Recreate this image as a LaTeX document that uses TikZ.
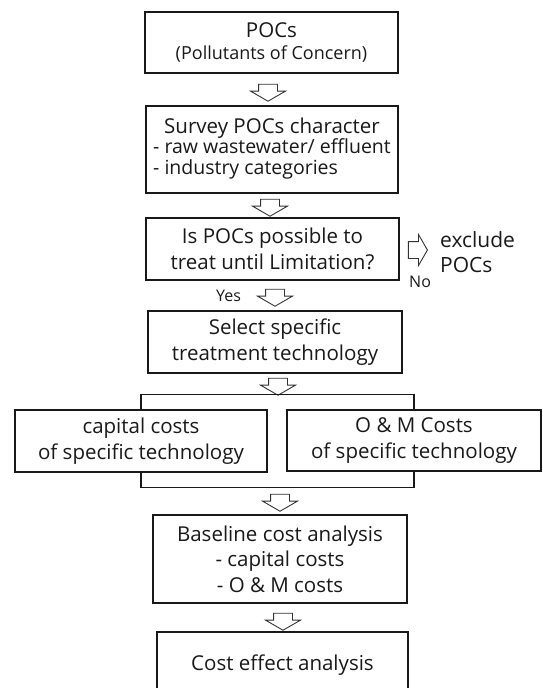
\documentclass[tikz,border=0pt]{standalone}
\usepackage{fontspec}
\setmainfont{Open Sans}
\usetikzlibrary{shapes.arrows}
\tikzset{
	stepbox/.style={draw=black!90, text=black!90, line width=1.4pt, align=center, inner sep=0pt, font=\fontsize{20.5}{25.5}\selectfont},
	downarrow/.style={single arrow, draw=black!80, line width=0.9pt, shape border rotate=270, minimum height=17pt, single arrow head extend=8pt, single arrow tip angle=120, inner xsep=9pt, inner ysep=0pt},
	sidearrow/.style={downarrow, shape border rotate=0, minimum height=19pt, single arrow head extend=7pt, inner xsep=0pt, inner ysep=8pt},
	sidetext/.style={text=black!90, inner sep=0pt, font=\fontsize{21}{25}\selectfont}
}
\begin{document}
\begin{tikzpicture}[x=1pt, y=-1pt]
			\useasboundingbox (0,0) rectangle (542,688);
			\clip (0,0) rectangle (542,688);
			\node[stepbox, minimum width=253pt, minimum height=61pt] (poc) at (271.5,42.5) {POCs\\[-4pt]{\fontsize{18}{21}\selectfont (Pollutants of Concern)}};
			\node[stepbox, minimum width=252pt, minimum height=87pt] (survey) at (272,149.5) {Survey POCs character\\[-1pt]{\fontsize{19.5}{21.5}\selectfont\begin{tabular}{@{}l@{}}- raw wastewater/ effluent\\- industry categories\end{tabular}}};
			\node[stepbox, minimum width=253pt, minimum height=62pt] (possible) at (272.5,249) {Is POCs possible to\\treat until Limitation?};
			\node[stepbox, minimum width=254pt, minimum height=62pt] (select) at (275,342) {Select specific\\treatment technology};
			\node[stepbox, minimum width=252pt, minimum height=62pt] (capital) at (141,441) {capital costs\\of specific technology};
			\node[stepbox, minimum width=254pt, minimum height=61pt] (om) at (414,440.5) {O \& M Costs\\of specific technology};
			\node[stepbox, minimum width=254pt, minimum height=88pt] (baseline) at (280,559) {Baseline cost analysis\\- capital costs\\- O \& M costs};
			\node[stepbox, minimum width=251pt, minimum height=76pt, text depth=15.5pt] (effect) at (282.5,670) {Cost effect analysis};
			\node[downarrow] (a1) at (268,90) {};
			\node[downarrow] (a2) at (270,205) {};
			\node[downarrow] (a3) at (275,295) {};
			\node[downarrow] (a4) at (278,384) {};
			\node[downarrow] (a5) at (280,500) {};
			\node[downarrow] (a6) at (283,619) {};
			\node[sidearrow] (no) at (415.5,250) {};
			\node[sidetext, anchor=west, align=left] (exclude) at (440,252) {exclude\\POCs};
			\node[sidetext, font=\fontsize{16}{18}\selectfont, anchor=base west] (nolabel) at (409,287) {No};
			\node[sidetext, font=\fontsize{16}{18}\selectfont, anchor=base west] (yes) at (216,301) {Yes};
			\draw[line width=1.4pt, black!90] (capital.north) -- ++(0,-15) -| (om.north);
			\draw[line width=1.4pt, black!90] (capital.south) -- ++(0,15) -| (om.south);
		\end{tikzpicture}
\end{document}
